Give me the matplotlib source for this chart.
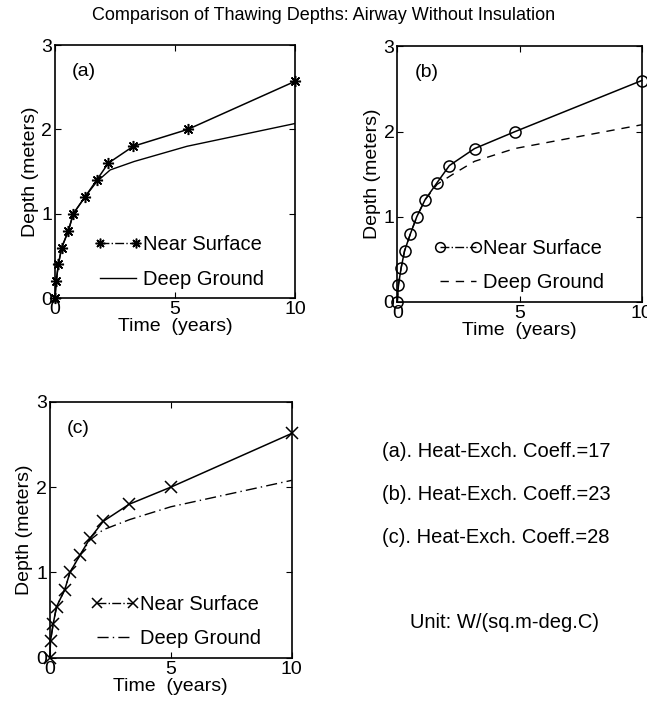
import matplotlib
matplotlib.use("Agg")
import matplotlib.pyplot as plt
from matplotlib.lines import Line2D

plt.rcParams['font.family'] = ['Liberation Sans', 'DejaVu Sans']

# near-surface thaw depth (markers)
depth_ns = [0, 0.2, 0.4, 0.6, 0.8, 1.0, 1.2, 1.4, 1.6, 1.8, 2.0]
time_ns_a = [0, 0.05, 0.14, 0.28, 0.56, 0.76, 1.25, 1.74, 2.22, 3.26, 5.53, 10]
depth_ns_a = depth_ns + [2.57]
time_ns_b = [0, 0.05, 0.16, 0.3, 0.54, 0.8, 1.14, 1.63, 2.13, 3.16, 4.82, 10]
depth_ns_b = depth_ns + [2.6]
time_ns_c = [0, 0.03, 0.14, 0.28, 0.62, 0.83, 1.24, 1.66, 2.21, 3.28, 5.0, 10]
depth_ns_c = depth_ns + [2.63]

# deep-ground thaw depth
time_dg_a = [0, 0.05, 0.14, 0.28, 0.56, 0.76, 1.25, 1.74, 2.3, 3.3, 5.5, 10]
depth_dg_a = [0, 0.2, 0.4, 0.6, 0.8, 1.0, 1.2, 1.38, 1.52, 1.62, 1.8, 2.07]
time_dg_b = [0, 0.05, 0.16, 0.3, 0.54, 0.8, 1.14, 1.63, 2.34, 3.16, 4.8, 10]
depth_dg_b = [0, 0.2, 0.4, 0.6, 0.8, 1.0, 1.2, 1.38, 1.51, 1.65, 1.8, 2.08]
time_dg_c = [0, 0.03, 0.14, 0.28, 0.62, 0.83, 1.24, 1.66, 2.2, 3.3, 5.0, 10]
depth_dg_c = [0, 0.2, 0.4, 0.6, 0.8, 1.0, 1.2, 1.38, 1.5, 1.62, 1.77, 2.08]

coeff_labels = ["(a). Heat-Exch. Coeff.=17",
                "(b). Heat-Exch. Coeff.=23",
                "(c). Heat-Exch. Coeff.=28"]

ASTERISK = (8, 2, 0)


def make_panel(fig, rect, tag, t_ns, d_ns, t_dg, d_dg, marker, dg_style,
               leg_x):
    ax = fig.add_axes(rect)
    ax.plot(t_ns, d_ns, color='k', lw=1.1, marker=marker, ms=8,
            mfc='none', mew=1.1, clip_on=False, zorder=3)
    ax.plot(t_dg, d_dg, color='k', lw=1.0, linestyle=dg_style)
    ax.set_xlim(0, 10)
    ax.set_ylim(0, 3)
    ax.set_xticks([0, 5, 10])
    ax.set_yticks([0, 1, 2, 3])
    ax.tick_params(direction='in', top=True, right=True, labelsize=14,
                   length=4, pad=2)
    ax.set_xlabel("Time  (years)", fontsize=14, labelpad=0)
    ax.set_ylabel("Depth (meters)", fontsize=14, labelpad=2)
    for sp in ax.spines.values():
        sp.set_linewidth(1.2)
    ax.text(0.07, 0.93, tag, transform=ax.transAxes, fontsize=14, va='top')
    handles = [Line2D([], [], color='k', lw=1.0, linestyle='-.',
                      marker=marker, ms=7, mfc='none', mew=1.1),
               Line2D([], [], color='k', lw=1.0, linestyle=dg_style)]
    ax.legend(handles, ["Near Surface", "Deep Ground"], loc='lower left',
              bbox_to_anchor=(leg_x, -0.01), frameon=False, fontsize=14.5,
              numpoints=2, handlelength=2.4, handletextpad=0.05,
              labelspacing=0.75, borderaxespad=0.2)
    return ax


fig = plt.figure(figsize=(6.47, 7.15), dpi=100)

make_panel(fig, [0.085, 0.583, 0.371, 0.354], "(a)",
           time_ns_a, depth_ns_a, time_dg_a, depth_dg_a, ASTERISK, '-', 0.11)
make_panel(fig, [0.614, 0.578, 0.378, 0.357], "(b)",
           time_ns_b, depth_ns_b, time_dg_b, depth_dg_b, 'o', (0, (6, 5)),
           0.10)
make_panel(fig, [0.077, 0.080, 0.374, 0.358], "(c)",
           time_ns_c, depth_ns_c, time_dg_c, depth_dg_c, 'x',
           (0, (8, 3, 1, 3)), 0.12)

fig.text(0.5, 0.979, "Comparison of Thawing Depths: Airway Without Insulation",
         ha='center', va='center', fontsize=13)

for i, lab in enumerate(coeff_labels):
    fig.text(0.59, 0.368 - i * 0.06, lab, ha='left', va='center',
             fontsize=14.5)
fig.text(0.633, 0.129, "Unit: W/(sq.m-deg.C)", ha='left', va='center',
         fontsize=14.5)

fig.savefig("out.png", dpi=100)
